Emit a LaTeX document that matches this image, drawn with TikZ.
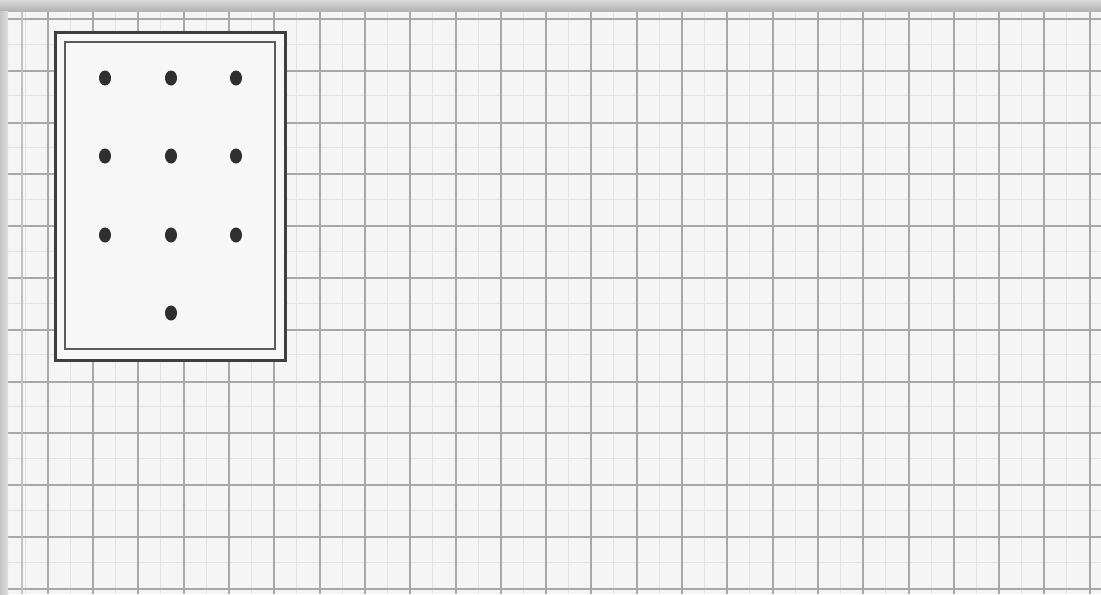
\documentclass[tikz,border=0pt]{standalone}
\usetikzlibrary{shapes.geometric}
\definecolor{paper}{HTML}{F5F5F5}
\definecolor{gridmajor}{HTML}{A8A8A8}
\definecolor{gridminor}{HTML}{E2E2E2}
\definecolor{frame}{HTML}{3E3E3E}
\definecolor{dotc}{HTML}{2F2F2F}
\tikzset{
  majorline/.style={draw=gridmajor, line width=1pt},
  minorline/.style={draw=gridminor, line width=0.5pt},
  outerframe/.style={draw=frame, line width=1.5pt, fill=white!97!black},
  innerframe/.style={draw=frame!85, line width=1.0pt},
  dotmark/.style={ellipse, fill=dotc, minimum width=6pt, minimum height=7.5pt, inner sep=0pt}
}
\begin{document}
\begin{tikzpicture}[x=0.5pt,y=-0.5pt]
\useasboundingbox (0,0) rectangle (1101,594);
\fill[paper] (0,0) rectangle (1101,594);
% minor grid
\foreach \k in {0,...,24} {\draw[minorline] ({25+45.3*\k},11) -- ({25+45.3*\k},594);}
\foreach \k in {0,...,11} {\draw[minorline] (8,{44+51.8*\k}) -- (1101,{44+51.8*\k});}
% major grid
\foreach \k in {1,...,24} {\draw[majorline] ({2.5+45.3*\k},11) -- ({2.5+45.3*\k},594);}
\foreach \k in {0,...,11} {\draw[majorline] (8,{19+51.8*\k}) -- (1101,{19+51.8*\k});}
\draw[gridmajor!70, line width=0.6pt] (22,11) -- (22,594);
% shadow bands
\shade[top color=gray!30, bottom color=gray!60] (0,0) rectangle (1101,11);
\shade[left color=gray!45, right color=gray!25] (0,11) rectangle (8,594);
% frame
\node[outerframe, minimum width=115pt, minimum height=164pt, inner sep=0pt] (outer) at (170,196) {};
\node[innerframe, minimum width=105pt, minimum height=153.5pt, inner sep=0pt] (inner) at (170,195.5) {};
% dots
\foreach \r/\yy in {1/78,2/156,3/235} {
  \node[dotmark] (d\r a) at (105,\yy) {};
  \node[dotmark] (d\r b) at (171,\yy) {};
  \node[dotmark] (d\r c) at (236,\yy) {};
}
\node[dotmark] (d4b) at (171,313) {};
\end{tikzpicture}
\end{document}
